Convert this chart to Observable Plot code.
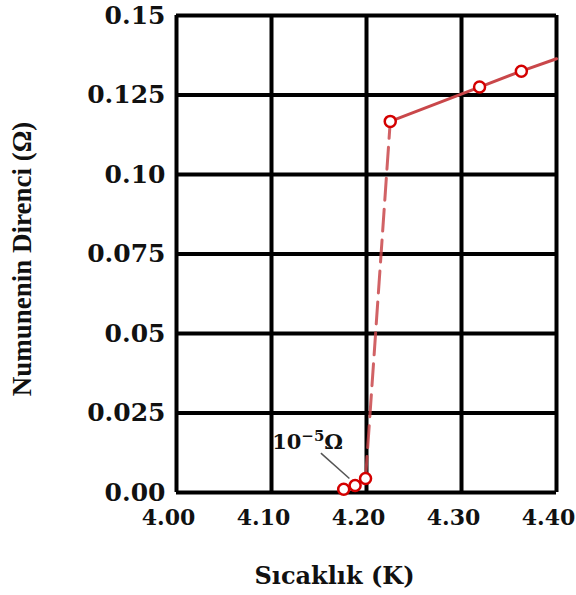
<!DOCTYPE html>
<html><head><meta charset="utf-8">
<script src="https://cdn.jsdelivr.net/npm/d3@7"></script>
<script src="https://cdn.jsdelivr.net/npm/@observablehq/plot@0.6"></script>
<style>body{margin:0;background:#fff}</style>
</head><body><div id="chart"></div>
<script>
const xTicks = [4.0, 4.1, 4.2, 4.3, 4.4];
const xTickLabels = ["4.00", "4.10", "4.20", "4.30", "4.40"];
const yTicks = [0, 0.025, 0.05, 0.075, 0.1, 0.125, 0.15];
const yTickLabels = ["0.00", "0.025", "0.05", "0.075", "0.10", "0.125", "0.15"];
const tempK = [4.176, 4.188, 4.199, 4.225, 4.319, 4.363];
const resistance = [0.001, 0.0022, 0.0044, 0.1167, 0.1275, 0.1325];
const endTemp = [4.40];
const endRes = [0.1364];
const annoBase = ["10"], annoSup = ["−5"], annoUnit = ["Ω"];
const annoX = [4.138];
const annoY = [0.0159];
const leaderX1 = [4.152], leaderY1 = [0.0124], leaderX2 = [4.182], leaderY2 = [0.0044];
const xLabel = "Sıcaklık (K)";
const yLabel = "Numunenin Direnci (Ω)";

const pts = tempK.map((t, i) => ({t, r: resistance[i]}));
const low = pts.slice(0, 3);
const jump = pts.slice(2, 4);
const high = pts.slice(3).concat(endTemp.map((t, i) => ({t, r: endRes[i]})));

const serif = "DejaVu Serif";
const red = "#c9474a";

const chart = Plot.plot({
  width: 576, height: 595,
  marginLeft: 176, marginRight: 20, marginTop: 15, marginBottom: 103,
  x: {domain: [4.0, 4.4]},
  y: {domain: [0, 0.15]},
  style: {fontFamily: serif, fontWeight: "bold", color: "#111", background: "#fff"},
  marks: [
    Plot.ruleX(xTicks, {stroke: "#000", strokeWidth: 4}),
    Plot.ruleY(yTicks, {stroke: "#000", strokeWidth: 4}),
    Plot.axisX(xTicks, {tickFormat: d => xTickLabels[xTicks.indexOf(d)], tickSize: 0, tickPadding: 17, dx: -8, fontSize: 22, fontWeight: "bold", label: null}),
    Plot.axisY(yTicks, {tickFormat: d => yTickLabels[yTicks.indexOf(d)], tickSize: 0, tickPadding: 11, fontSize: 25, fontWeight: "bold", label: null}),
    Plot.text([xLabel], {frameAnchor: "bottom", dx: -32, dy: 91, fontSize: 24, fontWeight: "bold", fill: "#111"}),
    Plot.text([yLabel], {frameAnchor: "left", textAnchor: "middle", rotate: -90, dx: -154, dy: 5, fontSize: 27, fontWeight: "bold", fontFamily: "Liberation Serif", fill: "#111"}),
    Plot.link([0], {x1: () => leaderX1[0], y1: () => leaderY1[0], x2: () => leaderX2[0], y2: () => leaderY2[0], stroke: "#555", strokeWidth: 1.5}),
    Plot.text(annoBase, {x: (d, i) => annoX[i], y: (d, i) => annoY[i], fontSize: 21, fontWeight: "bold", fill: "#111", className: "anno"}),
    Plot.line(low, {x: "t", y: "r", stroke: red, strokeWidth: 3}),
    Plot.line(jump, {x: "t", y: "r", stroke: red, strokeWidth: 3, strokeOpacity: 0.85, strokeDasharray: "22,9"}),
    Plot.line(high, {x: "t", y: "r", stroke: red, strokeWidth: 3}),
    Plot.dot(pts, {x: "t", y: "r", r: 5.5, stroke: "#d40000", strokeWidth: 2.5, fill: "#fff"})
  ]
});
chart.querySelectorAll(".anno text").forEach((t, i) => {
  t.textContent = "";
  const ns = "http://www.w3.org/2000/svg";
  const a = document.createElementNS(ns, "tspan"); a.textContent = annoBase[i];
  const b = document.createElementNS(ns, "tspan"); b.textContent = annoSup[i];
  b.setAttribute("dy", "-8"); b.setAttribute("font-size", "15");
  const c = document.createElementNS(ns, "tspan"); c.textContent = annoUnit[i];
  c.setAttribute("dy", "8");
  t.append(a, b, c);
});
document.getElementById("chart").appendChild(chart);
</script>
</body></html>
